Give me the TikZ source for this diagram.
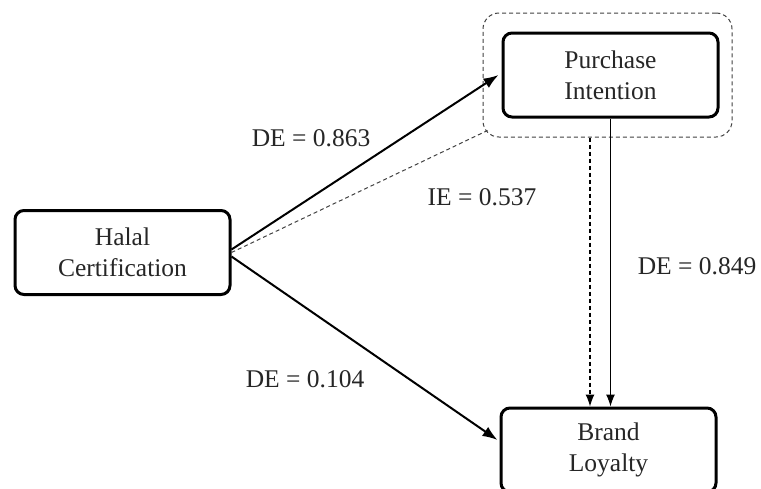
\documentclass[tikz,border=0pt]{standalone}
\usepackage{fontspec}
\setmainfont{Liberation Serif}
\usetikzlibrary{arrows.meta}
\begin{document}
\begin{tikzpicture}[x=1pt,y=-1pt,
  box/.style={draw=black, line width=3pt, rounded corners=9pt, minimum width=215pt, minimum height=84pt, align=center, font=\fontsize{25.5}{31}\selectfont, text=black!85, inner sep=0pt},
  grpbox/.style={draw=black!75, line width=1pt, dash pattern=on 4pt off 3pt, rounded corners=16pt, minimum width=249pt, minimum height=124pt, inner sep=0pt},
  lbl/.style={font=\fontsize{25.5}{31}\selectfont, text=black!85, inner sep=1pt},
  arr/.style={line width=2pt, -{Latex[length=15pt,width=11pt]}},
  varr/.style={line width=1.2pt, -{Latex[length=12pt,width=9pt]}},
  dline/.style={line width=1pt, draw=black!75, dash pattern=on 4pt off 3pt}
]
\clip (0,0) rectangle (761,488);
\useasboundingbox (0,0) rectangle (761,488);
\node[grpbox] (grp) at (607.5,75) {};
\node[box] (pi) at (610.5,75) {Purchase\\Intention};
\node[box] (hc) at (122.5,252.5) {Halal\\Certification};
\node[box] (bl) at (608.5,450) {Brand\\Loyalty};
\draw[arr] ([yshift=3pt]hc.east) -- ([xshift=-3pt]pi.west);
\draw[dline] (hc.east) -- ([xshift=5pt,yshift=7pt]grp.south west);
\draw[arr] ([yshift=-4pt]hc.east) -- ([xshift=-2pt,yshift=10pt]bl.west);
\draw[varr] (pi.south) -- (pi.south |- bl.north);
\draw[varr, dash pattern=on 4pt off 3pt] ([xshift=-17.5pt]grp.south) -- ([xshift=-17.5pt]grp.south |- bl.north);
\node[lbl] (l1) at (311,138) {DE = 0.863};
\node[lbl] (l2) at (482,197) {IE = 0.537};
\node[lbl] (l3) at (697,266) {DE = 0.849};
\node[lbl] (l4) at (305,379) {DE = 0.104};
\end{tikzpicture}
\end{document}
